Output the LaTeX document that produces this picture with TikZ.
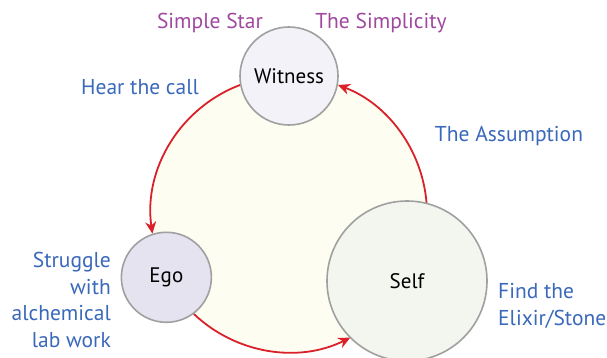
\documentclass[tikz,border=0pt]{standalone}
\usepackage{fontspec}
\setmainfont{PT Sans}
\usetikzlibrary{arrows.meta}
\definecolor{arrred}{RGB}{218,32,40}
\definecolor{txtblue}{RGB}{58,104,186}
\definecolor{txtpurple}{RGB}{160,72,160}
\definecolor{cream}{RGB}{253,253,242}
\definecolor{rimgray}{RGB}{160,160,160}
\tikzset{
  bubble/.style={circle, draw=rimgray, line width=1.6pt, font=\fontsize{21}{24}\selectfont, text=black, inner sep=0pt},
  flow/.style={draw=arrred, line width=1.8pt, -{Stealth[length=12pt,width=11pt]}},
  bluelbl/.style={text=txtblue, font=\fontsize{21.5}{26.5}\selectfont, inner sep=0pt},
  purplelbl/.style={text=txtpurple, font=\fontsize{21.5}{26}\selectfont, inner sep=0pt}
}
\begin{document}
\begin{tikzpicture}[x=1pt,y=1pt]
\useasboundingbox (0,0) rectangle (607,357);
\coordinate (C) at (289,143);
\fill[cream] (C) circle[radius=138];
% arcs
\draw[flow] ([shift={(110.4:138)}]C) arc[start angle=110.4, end angle=188.2, radius=138];
\draw[flow] ([shift={(226.4:138)}]C) arc[start angle=226.4, end angle=296.4, radius=138];
\draw[flow] ([shift={(4.6:138)}]C) arc[start angle=4.6, end angle=69.2, radius=138];
% bubbles
\node[bubble, fill={rgb,255:red,243;green,242;blue,248}, minimum size=98pt] (W) at ([shift={(90:138)}]C) {Witness};
\node[bubble, fill={rgb,255:red,230;green,227;blue,240}, minimum size=90pt] (E) at ([shift={(207.3:138)}]C) {Ego};
\node[bubble, fill={rgb,255:red,243;green,246;blue,238}, minimum size=160pt] (S) at (407,76) {Self};
% labels
\node[purplelbl] (l1) at (210,334) {Simple Star};
\node[purplelbl] (l2) at (381,334) {The Simplicity};
\node[bluelbl] (l3) at (140,270) {Hear the call};
\node[bluelbl, anchor=east, align=right] (l4) at (111,57) {Struggle\\with\\alchemical\\lab work};
\node[bluelbl] (l5) at (509,221) {The Assumption};
\node[bluelbl, anchor=west, align=left] (l6) at (498,51) {Find the\\Elixir/Stone};
\end{tikzpicture}
\end{document}
